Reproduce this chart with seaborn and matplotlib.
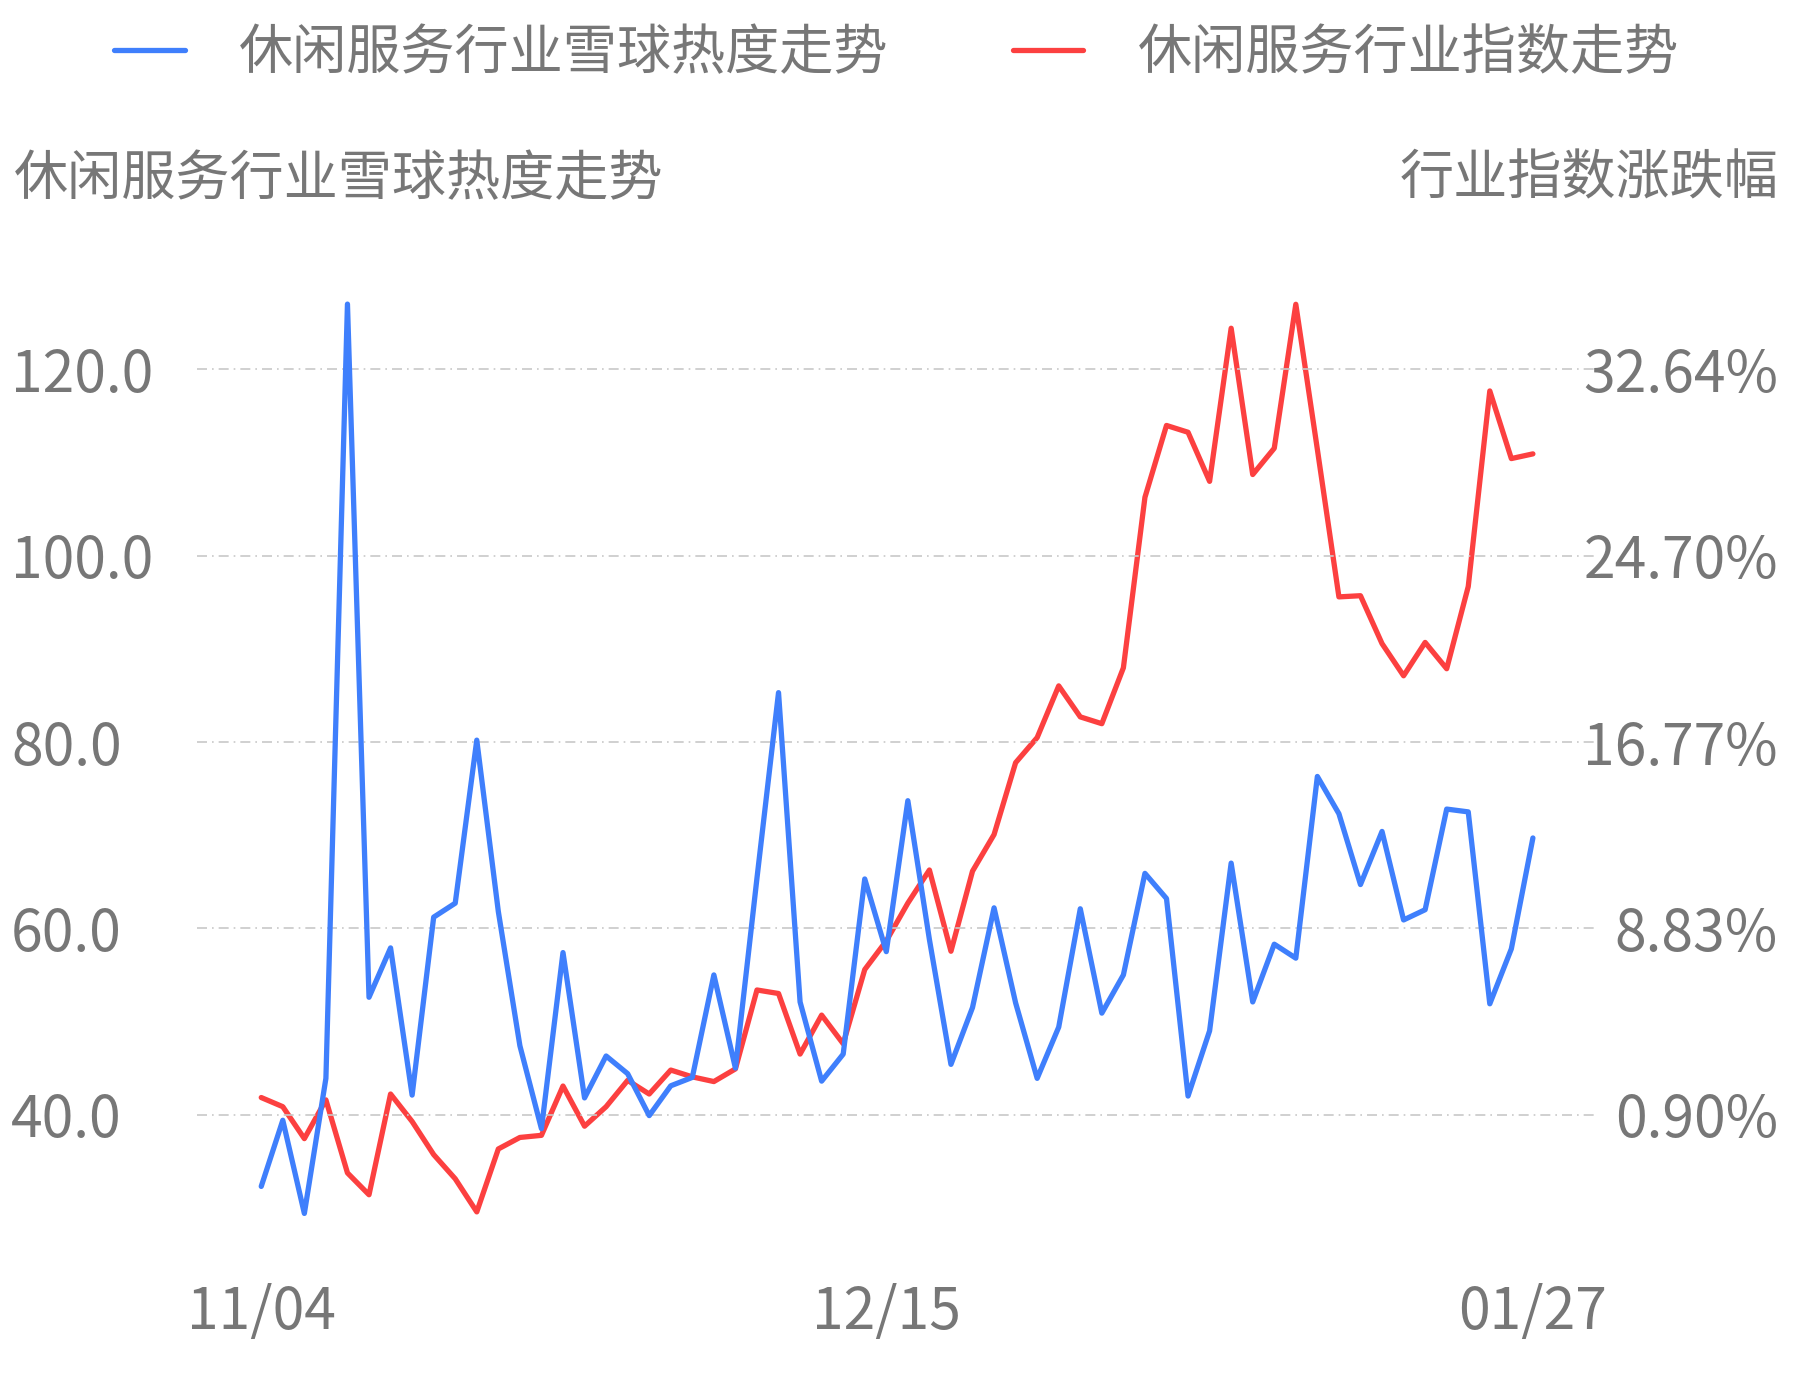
import matplotlib
matplotlib.use("Agg")
import matplotlib.pyplot as plt
import seaborn as sns
import pandas as pd
import numpy as np

heat = [32.3,39.4,29.4,43.9,127.0,52.6,57.9,42.1,61.2,62.7,80.2,61.8,47.4,38.5,57.4,41.8,46.3,44.4,39.9,43.1,
        44.0,55.0,45.0,65.4,85.3,52.1,43.6,46.5,65.3,57.5,73.7,58.8,45.4,51.5,62.2,52.0,43.9,49.4,62.1,50.9,
        55.0,65.9,63.2,42.0,49.0,67.0,52.1,58.3,56.8,76.3,72.3,64.7,70.4,60.9,62.0,72.8,72.5,51.9,57.8,69.7]
index_chg = [1.63,1.24,-0.12,1.53,-1.58,-2.51,1.78,0.61,-0.80,-1.83,-3.24,-0.56,-0.07,0.02,2.12,0.41,1.24,2.36,1.78,2.80,
             2.51,2.31,2.85,6.21,6.06,3.48,5.14,3.92,7.08,8.30,9.91,11.32,7.86,11.27,12.83,15.89,16.96,19.16,17.84,17.55,
             19.93,27.19,30.25,29.96,27.87,34.39,28.16,29.28,35.41,29.23,22.95,23.00,20.96,19.59,21.01,19.89,23.39,31.72,28.84,29.04]
xtick_pos = [0, 29, 59]
xtick_labels = ["11/04", "12/15", "01/27"]
left_ticks = [40, 60, 80, 100, 120]
right_ticks = [0.90, 8.835, 16.77, 24.705, 32.64]
right_labels = ["0.90%", "8.83%", "16.77%", "24.70%", "32.64%"]
name_heat = "休闲服务行业雪球热度走势"
name_idx = "休闲服务行业指数走势"

sns.set_theme(style="white")
plt.rcParams['font.family'] = ['Noto Sans CJK SC', 'DejaVu Sans']
gray = "#777777"
blue = "#3f7ffc"
red = "#fc4040"

df = pd.DataFrame({"i": np.arange(len(heat)), "heat": heat, "idx": index_chg})

fig = plt.figure(figsize=(17.93, 13.8), dpi=100)
ax = fig.add_axes([0.110, 0.118, 0.781, 0.665])
ax2 = ax.twinx()
sns.lineplot(data=df, x="i", y="heat", ax=ax, color=blue, lw=3.8, label=name_heat, legend=False)
sns.lineplot(data=df, x="i", y="idx", ax=ax2, color=red, lw=3.8, label=name_idx, legend=False)

lo, hi = 29, 127.5
ax.set_ylim(lo, hi)
f = lambda v: 0.90 + (v - 40) * 7.935 / 20
ax2.set_ylim(f(lo), f(hi))
ax.set_xlim(-2.97, 62.0)
ax.set_yticks(left_ticks)
ax.set_yticklabels([f"{v:.1f}" for v in left_ticks], ha="left")
ax2.set_yticks(right_ticks)
ax2.set_yticklabels(right_labels, ha="right")
ax.set_xticks(xtick_pos)
ax.set_xticklabels(xtick_labels)
ax.grid(axis="y", color="#c8c8c8", ls=(0, (6, 3, 1, 3)), lw=1.2)
ax2.grid(False)
for a in (ax, ax2):
    for s in a.spines.values():
        s.set_visible(False)
    a.set_xlabel(""); a.set_ylabel("")
    a.tick_params(length=0, labelsize=41, colors=gray)
ax.tick_params(axis="y", pad=134)
ax.tick_params(axis="x", pad=48)
ax2.tick_params(axis="y", pad=130)
ax.set_zorder(ax2.get_zorder() + 1); ax.patch.set_visible(False)

fig.text(0.008, 0.87, name_heat, fontsize=39, color=gray, va="center", ha="left")
fig.text(0.992, 0.87, "行业指数涨跌幅", fontsize=39, color=gray, va="center", ha="right")

h1 = ax.get_lines()[0]; h2 = ax2.get_lines()[0]
fig.legend([h1, h2], [name_heat, name_idx], loc="center", bbox_to_anchor=(0.5, 0.961), ncol=2,
           frameon=False, fontsize=39, labelcolor=gray, handlelength=1.3, columnspacing=2.3, handletextpad=1.0)

fig.savefig("out.png", dpi=100)
